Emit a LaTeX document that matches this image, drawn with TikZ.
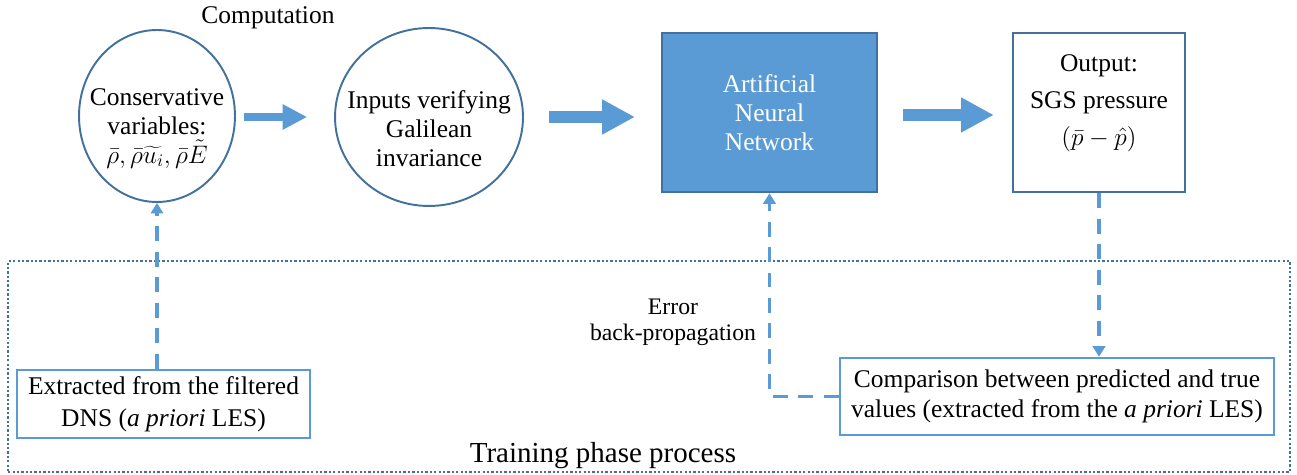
\documentclass[tikz,border=0pt]{standalone}
\usepackage{fontspec}
\setmainfont{Liberation Serif}
\usetikzlibrary{positioning, arrows.meta, shapes.geometric}

\definecolor{annblue}{HTML}{5B9BD5}
\definecolor{edgeblue}{HTML}{41719C}

\begin{document}
\begin{tikzpicture}[
    x=0.02cm, y=-0.02cm,
    txt/.style={font=\fontsize{14.5}{16.5}\selectfont, align=center},
    var/.style={ellipse, draw=edgeblue, line width=1.1pt, inner sep=-14pt, txt},
    ann/.style={rectangle, draw=edgeblue, fill=annblue, line width=1.4pt, minimum width=4.3cm, minimum height=3.18cm, text=white, txt},
    outbox/.style={rectangle, draw=edgeblue, line width=1.4pt, minimum width=3.44cm, minimum height=3.18cm, txt, font=\fontsize{14.5}{21}\selectfont},
    src/.style={rectangle, draw=annblue, line width=1.4pt, inner sep=0pt, txt},
    framebox/.style={rectangle, draw=edgeblue, line width=1.4pt, dash pattern=on 1.3pt off 1.2pt},
    note/.style={txt},
    bigarrow/.style={-{Triangle[length=18.7pt, width=18.7pt]}, line width=6.8pt, annblue},
    smallarrow/.style={-{Triangle[length=14pt, width=13.6pt]}, line width=4.5pt, annblue},
    back/.style={-{Triangle[length=6pt, width=7pt]}, dash pattern=on 8.5pt off 6pt, line width=1.8pt, annblue},
]
\useasboundingbox (0,0) rectangle (1297,475);

% Training frame
\node[framebox, minimum width=25.64cm, minimum height=4.22cm] (frame) at (649,366.5) {};
\node[note, font=\fontsize{16.5}{18}\selectfont, above=-1pt of frame.south, xshift=-0.92cm] (train) {Training phase process};

% Computation chain
\node[note] (comp) at (268,18) {Computation};
\node[var, minimum width=3.12cm, minimum height=3.44cm] (cons) at (157,116)
    {\mbox{}\\[7pt]Conservative\\variables:\\$\bar\rho,\bar\rho\widetilde{u_i},\bar\rho\tilde{E}$};
\node[var, minimum width=3.76cm, minimum height=3.56cm] (inv) at (429,117)
    {\mbox{}\\[7pt]Inputs verifying\\Galilean\\invariance};
\node[ann] (ann) at (769.5,112.5) {Artificial\\Neural\\Network};
\node[outbox] (out) at (1099,112.5) {Output:\\SGS pressure\\$(\bar p-\hat p)$\\[-7pt]\mbox{}};

% Training boxes
\node[src, minimum width=5.86cm, minimum height=1.36cm, font=\fontsize{14.5}{18}\selectfont] (ext) at (163.5,404)
    {Extracted from the filtered\\DNS (\textit{a priori} LES)};
\node[src, minimum width=8.68cm, minimum height=1.54cm, font=\fontsize{14.5}{17}\selectfont] (cmp) at (1057,396.5)
    {Comparison between predicted and true\\values (extracted from the \textit{a priori} LES)};
\node[note, font=\fontsize{13.5}{15}\selectfont] (err) at (673,322) {Error\\back-propagation};

% Arrows - computation
\draw[smallarrow, shorten <=4.5pt, shorten >=15.3pt] (cons.east |- 0,117) -- (inv.west |- 0,117);
\draw[bigarrow, shorten <=14.2pt, shorten >=14.7pt] (inv.east) -- (inv.east -| ann.west);
\draw[bigarrow, shorten <=14.2pt, shorten >=10.2pt] (ann.east |- 0,115) -- (out.west |- 0,115);

% Arrows - training
\draw[back] (ext.north -| cons.south) -- (cons.south);
\draw[back] (out.south) -- (out.south |- cmp.north);
\draw[back] (cmp.west) -| (ann.south);

\end{tikzpicture}
\end{document}
